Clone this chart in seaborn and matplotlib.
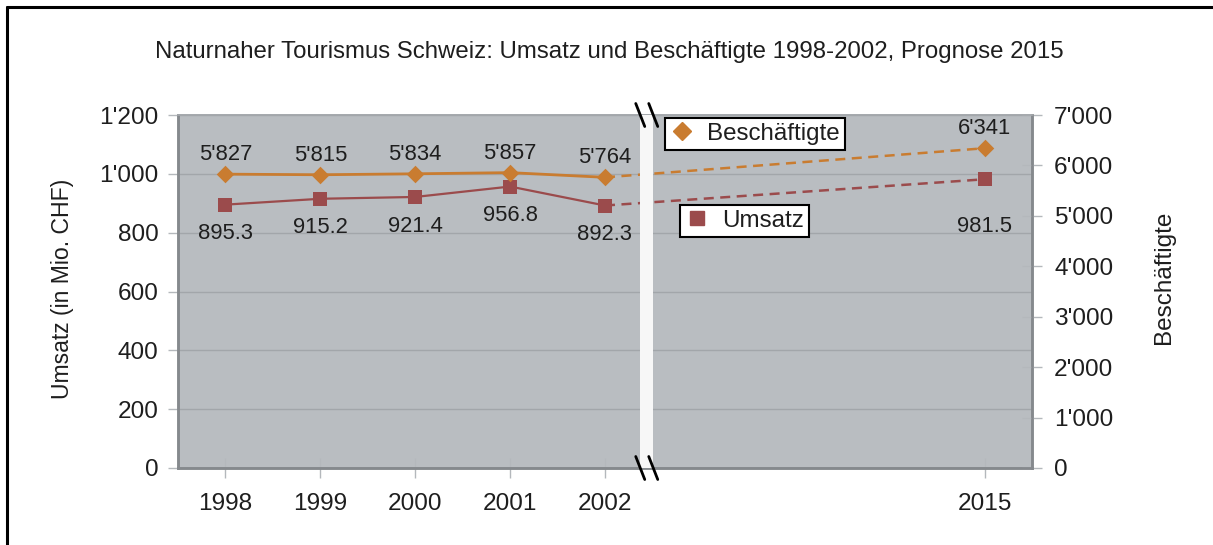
import matplotlib
matplotlib.use("Agg")
import matplotlib.pyplot as plt
import seaborn as sns
import pandas as pd
from matplotlib.lines import Line2D
from matplotlib.ticker import FuncFormatter

# ---- data ----
years = ["1998", "1999", "2000", "2001", "2002", "2015"]
umsatz = [895.3, 915.2, 921.4, 956.8, 892.3, 981.5]
beschaeftigte = [5827, 5815, 5834, 5857, 5764, 6341]
umsatz_labels = ["895.3", "915.2", "921.4", "956.8", "892.3", "981.5"]
besch_labels = ["5'827", "5'815", "5'834", "5'857", "5'764", "6'341"]
left_ticks = [0, 200, 400, 600, 800, 1000, 1200]
right_ticks = [0, 1000, 2000, 3000, 4000, 5000, 6000, 7000]
title = "Naturnaher Tourismus Schweiz: Umsatz und Beschäftigte 1998-2002, Prognose 2015"
ylabel_left = "Umsatz (in Mio. CHF)"
ylabel_right = "Beschäftigte"

# broken axis: forecast year placed a few slots after the last observed year
def year_pos(y):
    y = int(y)
    return y - 1998 if y <= 2002 else 8

pos = [year_pos(y) for y in years]
df = pd.DataFrame({"year": years, "pos": pos, "umsatz": umsatz, "besch": beschaeftigte})
hist = df.iloc[:5]
prog = df.iloc[4:]

ORANGE = "#c97c30"
RED = "#9b4b4c"
BG = "#b9bdc1"
GRID = "#a2a6aa"
TXT = "#1e1e1e"
FS_TICK = 17.6
FS_TITLE = 17.3
FS_DATA = 15.8
FS_LEG = 17.4

sns.set_theme(style="ticks")
plt.rcParams["font.family"] = ["Liberation Sans", "DejaVu Sans"]
plt.rcParams["text.color"] = TXT

W, H = 1213, 545
fig = plt.figure(figsize=(W / 100, H / 100), dpi=100)
ax = fig.add_axes([178 / W, 77 / H, 854 / W, 353 / H])
ax2 = ax.twinx()
ax.set_facecolor(BG)

# Umsatz (left axis)
sns.lineplot(data=hist, x="pos", y="umsatz", ax=ax, color=RED, lw=1.6)
sns.lineplot(data=prog, x="pos", y="umsatz", ax=ax, color=RED, lw=1.8, linestyle=(0, (4, 2.6)))
sns.scatterplot(data=df, x="pos", y="umsatz", ax=ax, marker="s", s=100, color=RED, linewidth=0, zorder=5)

# Beschaeftigte (right axis)
sns.lineplot(data=hist, x="pos", y="besch", ax=ax2, color=ORANGE, lw=2.0)
sns.lineplot(data=prog, x="pos", y="besch", ax=ax2, color=ORANGE, lw=1.8, linestyle=(0, (4, 2.6)))
sns.scatterplot(data=df, x="pos", y="besch", ax=ax2, marker="D", s=80, color=ORANGE, linewidth=0, zorder=5)

ax.set_xlim(-0.5, 8.5)
ax.set_ylim(0, 1200)
ax2.set_ylim(0, 7000)
ax.set_xlabel("")
ax.set_ylabel("")
ax2.set_xlabel("")
ax2.set_ylabel("")

fmt = FuncFormatter(lambda v, p: f"{v:,.0f}".replace(",", "'"))
ax.set_yticks(left_ticks)
ax.yaxis.set_major_formatter(fmt)
ax2.set_yticks(right_ticks)
ax2.yaxis.set_major_formatter(fmt)
ax.set_xticks(pos, years)

ax.grid(axis="y", color=GRID, lw=1)
ax.set_axisbelow(True)
ax2.grid(False)

ax.tick_params(axis="y", direction="out", length=7, width=1, color="#b4b8bc", pad=7, labelsize=FS_TICK, labelcolor=TXT)
ax2.tick_params(axis="y", direction="inout", length=14, width=1, color="#b4b8bc", pad=9, labelsize=FS_TICK, labelcolor=TXT)
ax.tick_params(axis="x", direction="inout", length=14, width=1, color="#b4b8bc", pad=11, labelsize=FS_TICK, labelcolor=TXT)

for a in (ax, ax2):
    for side in ("left", "bottom", "right"):
        a.spines[side].set_color("#85898d")
        a.spines[side].set_linewidth(1.8)
    a.spines["top"].set_color("#a4a8ac")
    a.spines["top"].set_linewidth(1.2)

# data labels
for x, y, t in zip(df["pos"], df["umsatz"], umsatz_labels):
    off = -34 if x == 8 else -21
    ax.annotate(t, (x, y), xytext=(0, off), textcoords="offset points",
                ha="center", va="center", fontsize=FS_DATA, color=TXT)
for x, y, t in zip(df["pos"], df["besch"], besch_labels):
    ax2.annotate(t, (x, y), xytext=(0, 14), textcoords="offset points",
                 ha="center", va="center", fontsize=FS_DATA, color=TXT)

# axis break band and marks
bx = 4.44
ax2.axvspan(bx - 0.068, bx + 0.068, color="#f7f7f7", zorder=10, lw=0)
pxw = 1 / 854
pxh = 1 / 353
bxa = (bx + 0.5) / 9
for yc in (1.0, 0.0):
    for dx in (-6.5 * pxw, 6.5 * pxw):
        ax2.plot([bxa + dx - 4.5 * pxw, bxa + dx + 4.5 * pxw],
                 [yc + 11.5 * pxh, yc - 11.5 * pxh],
                 transform=ax2.transAxes, color="black", lw=2, clip_on=False, zorder=11)

# titles and axis labels
fig.text(609 / W, 1 - 52 / H, title, ha="center", va="center", fontsize=FS_TITLE, color=TXT)
fig.text(62 / W, 1 - 289 / H, ylabel_left, rotation=90, ha="center", va="center", fontsize=16.6, color=TXT)
fig.text(1164 / W, 1 - 277.5 / H, ylabel_right, rotation=90, ha="center", va="center", fontsize=17.5, color=TXT)

# legends (two separate boxes)
h_b = Line2D([], [], marker="D", color=ORANGE, ls="none", ms=9)
h_u = Line2D([], [], marker="s", color=RED, ls="none", ms=10)
common = dict(loc="upper left", frameon=True, fancybox=False, framealpha=1, edgecolor="black",
              fontsize=FS_LEG, borderaxespad=0, borderpad=0.2, handlelength=1.0, handletextpad=0.55)
leg1 = fig.legend([h_b], [ylabel_right], bbox_to_anchor=(665 / W, 1 - 118 / H), **common)
leg2 = fig.legend([h_u], ["Umsatz"], bbox_to_anchor=(680 / W, 1 - 205 / H), **common)
for lg in (leg1, leg2):
    lg.get_frame().set_linewidth(1.5)
    for t in lg.get_texts():
        t.set_color(TXT)

# outer frame (left and top edges visible)
fig.add_artist(Line2D([6.5 / W, 6.5 / W], [0, 1 - 6.5 / H], transform=fig.transFigure, color="black", lw=2.2))
fig.add_artist(Line2D([6.5 / W, 1], [1 - 6.5 / H, 1 - 6.5 / H], transform=fig.transFigure, color="black", lw=2.2))

fig.savefig("out.png", dpi=100)
